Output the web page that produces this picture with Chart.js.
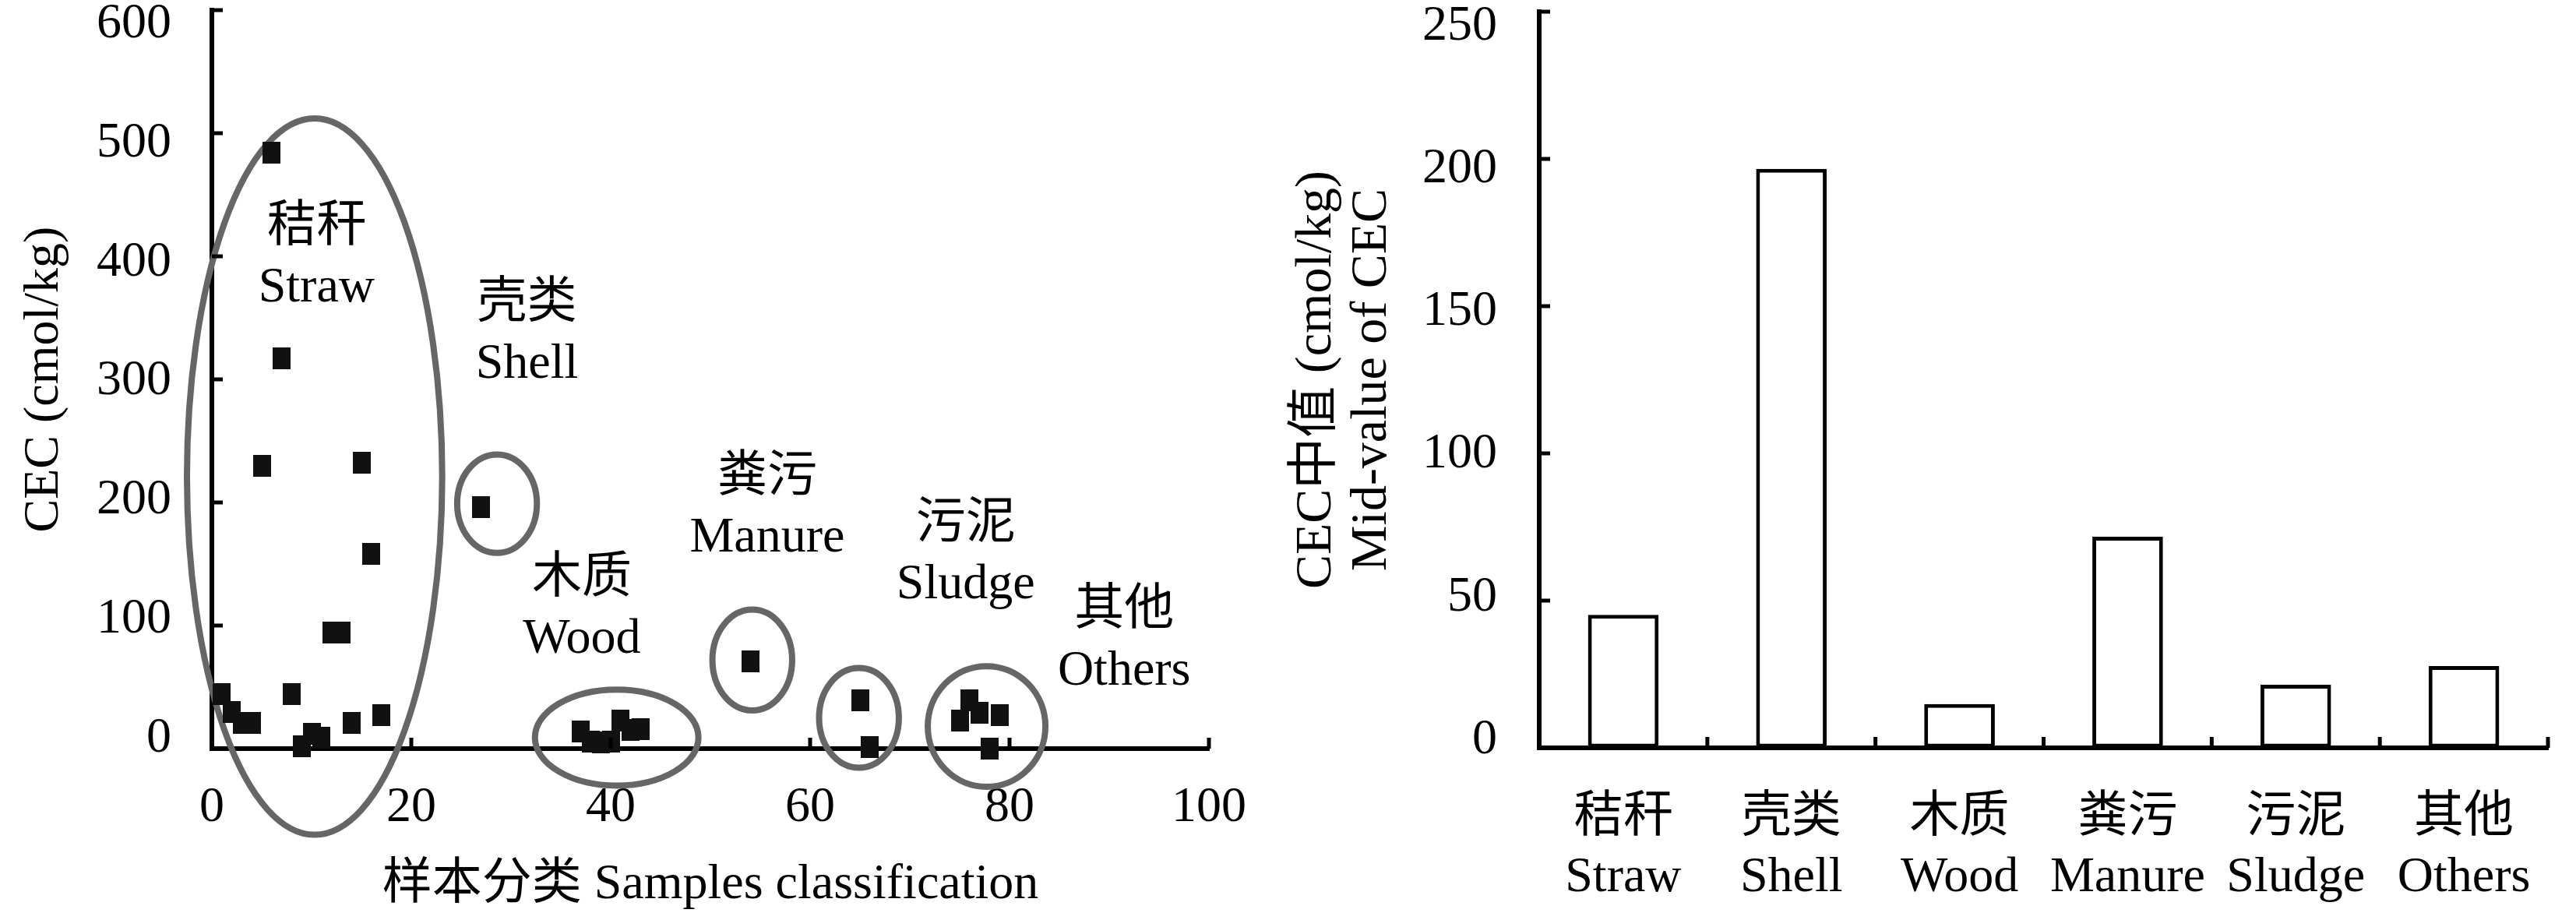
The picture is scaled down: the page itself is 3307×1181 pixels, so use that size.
<!DOCTYPE html>
<html>
<head>
<meta charset="utf-8">
<script src="https://cdn.jsdelivr.net/npm/chart.js@4.4.1/dist/chart.umd.min.js"></script>
<style>
  html, body { margin: 0; padding: 0; background: #fff; }
  #wrap { position: relative; width: 3307px; height: 1181px; }
  #scatter { position: absolute; left: 0; top: 0; }
  #bars { position: absolute; left: 1600px; top: 0; }
</style>
</head>
<body>
<div id="wrap">
  <canvas id="scatter" width="1600" height="1181"></canvas>
  <canvas id="bars" width="1707" height="1181"></canvas>
</div>
<script>
// ---- data ----
const xTicks = [0, 20, 40, 60, 80, 100];
const yTicksLeft = [0, 100, 200, 300, 400, 500, 600];
const yTicksRight = [0, 50, 100, 150, 200, 250];

// sample index / CEC (cmol/kg)
const strawX = [1, 2, 3, 4, 5, 6, 7, 8, 9, 10, 11, 12, 13, 14, 15, 16, 17];
const strawY = [44, 30, 21, 21, 230, 484, 317, 44, 2, 12, 9, 94, 94, 21, 232, 158, 27];
const shellX = [27];
const shellY = [196];
const woodX = [37, 38, 39, 40, 41, 42, 43];
const woodY = [14, 6, 5, 6, 23, 15, 16];
const manureX = [54];
const manureY = [71];
const sludgeX = [65, 66];
const sludgeY = [39, 1];
const othersX = [75, 76, 77, 78, 79];
const othersY = [23, 39, 29, 0, 27];

// medians per class
const classes = [['秸秆', 'Straw'], ['壳类', 'Shell'], ['木质', 'Wood'], ['粪污', 'Manure'], ['污泥', 'Sludge'], ['其他', 'Others']];
const medians = [45.2, 196.6, 14.9, 71.7, 21.4, 27.8];

// group outlines (data units) and group captions
const ellipses = [
  { cx: 10.3, cy: 221, rx: 12.8, ry: 291 },
  { cx: 28.6, cy: 199, rx: 4.0, ry: 40 },
  { cx: 40.6, cy: 9, rx: 8.2, ry: 39 },
  { cx: 54.2, cy: 72, rx: 4.0, ry: 41 },
  { cx: 64.9, cy: 25, rx: 4.0, ry: 40.5 },
  { cx: 77.7, cy: 18, rx: 5.9, ry: 49 }
];
const captions = [
  { zh: '秸秆', en: 'Straw', x: 10.5, y: 399 },
  { zh: '壳类', en: 'Shell', x: 31.6, y: 337 },
  { zh: '木质', en: 'Wood', x: 37.1, y: 114 },
  { zh: '粪污', en: 'Manure', x: 55.7, y: 196 },
  { zh: '污泥', en: 'Sludge', x: 75.6, y: 158 },
  { zh: '其他', en: 'Others', x: 91.5, y: 88 }
];

const FAMILY = '"Liberation Serif", "Times New Roman", "Noto Sans CJK SC", serif';
const font64 = { family: FAMILY, size: 64, lineHeight: 1.2 };

// rectangular marker (figure is slightly stretched vertically)
const marker = document.createElement('canvas');
marker.width = 23; marker.height = 28;
(function() {
    const c = marker.getContext('2d');
    c.fillStyle = '#111';
    c.fillRect(0, 0, 23, 28);
})();

function pts(xs, ys) {
    return xs.map((x, i) => ({ x: x, y: ys[i] }));
}

// keep the plot box where the figure has it (no label overhang padding)
function noPadY(width) {
    return s => { s.width = width; s.paddingTop = 0; s.paddingBottom = 0; };
}
function noPadX(height) {
    return s => { s.height = height; s.paddingLeft = 0; s.paddingRight = 0; };
}

// inward tick marks
const innerTicks = {
    id: 'innerTicks',
    afterDraw(chart) {
        const ctx = chart.ctx;
        const a = chart.chartArea;
        const xs = chart.scales.x, ys = chart.scales.y;
        const len = 14;
        ctx.save();
        ctx.strokeStyle = '#000';
        ctx.lineWidth = 5;
        ctx.beginPath();
        ys.ticks.forEach((t, i) => {
            const py = ys.getPixelForTick(i);
            ctx.moveTo(a.left, py); ctx.lineTo(a.left + len, py);
        });
        if (xs.type === 'category') {
            for (let i = 0; i < xs.ticks.length; i++) {
                const px = i === xs.ticks.length - 1 ? a.right
                    : (xs.getPixelForValue(i) + xs.getPixelForValue(i + 1)) / 2;
                ctx.moveTo(px, a.bottom); ctx.lineTo(px, a.bottom - len);
            }
        } else {
            xs.ticks.forEach((t, i) => {
                const px = xs.getPixelForTick(i);
                ctx.moveTo(px, a.bottom); ctx.lineTo(px, a.bottom - len);
            });
        }
        ctx.stroke();
        ctx.restore();
    }
};

// gray group outlines + captions on the scatter panel
const groups = {
    id: 'groups',
    beforeDatasetsDraw(chart) {
        const ctx = chart.ctx;
        const xs = chart.scales.x, ys = chart.scales.y;
        ctx.save();
        ctx.strokeStyle = '#666';
        ctx.lineWidth = 8;
        ellipses.forEach(e => {
            const px = xs.getPixelForValue(e.cx), py = ys.getPixelForValue(e.cy);
            const rx = Math.abs(xs.getPixelForValue(e.cx + e.rx) - px);
            const ry = Math.abs(ys.getPixelForValue(e.cy + e.ry) - py);
            ctx.beginPath();
            ctx.ellipse(px, py, rx, ry, 0, 0, Math.PI * 2);
            ctx.stroke();
        });
        ctx.fillStyle = '#000';
        ctx.font = '64px ' + FAMILY;
        ctx.textAlign = 'center';
        ctx.textBaseline = 'middle';
        captions.forEach(c => {
            const px = xs.getPixelForValue(c.x), py = ys.getPixelForValue(c.y);
            ctx.fillText(c.zh, px, py - 38);
            ctx.fillText(c.en, px, py + 40);
        });
        ctx.restore();
    }
};

Chart.defaults.color = '#000';
Chart.defaults.font.family = FAMILY;

// value axis carries marks and border; a second, label-only axis sets the
// tick numbers a little inside the ends, the way the figure prints them
new Chart(document.getElementById('scatter'), {
    type: 'scatter',
    data: {
        datasets: [
            { data: pts(strawX, strawY) },
            { data: pts(shellX, shellY) },
            { data: pts(woodX, woodY) },
            { data: pts(manureX, manureY) },
            { data: pts(sludgeX, sludgeY) },
            { data: pts(othersX, othersY) }
        ].map(d => Object.assign(d, { pointStyle: marker, clip: false, yAxisID: 'y' }))
    },
    options: {
        responsive: false,
        devicePixelRatio: 1,
        animation: false,
        layout: { padding: { top: 13, right: 48, left: 0, bottom: 0 } },
        plugins: { legend: { display: false }, tooltip: { enabled: false } },
        scales: {
            x: {
                type: 'linear', min: 0, max: 100,
                afterBuildTicks: s => { s.ticks = xTicks.map(v => ({ value: v })); },
                afterFit: noPadX(220),
                grid: { display: true, drawOnChartArea: false, drawTicks: false },
                border: { color: '#000', width: 6 },
                ticks: { font: font64, padding: 38, maxRotation: 0 },
                title: { display: true, text: '样本分类 Samples classification', font: font64, padding: { top: 0, bottom: 6 } }
            },
            yl: {
                type: 'linear', position: 'left', weight: 1, min: -8.5, max: 611.8,
                afterBuildTicks: s => { s.ticks = yTicksLeft.map(v => ({ value: v })); },
                afterFit: noPadY(272),
                grid: { display: false },
                border: { display: false },
                ticks: { font: font64, padding: 44 },
                title: { display: true, text: 'CEC (cmol/kg)', font: font64, padding: { top: 19, bottom: 0 } }
            },
            y: {
                type: 'linear', position: 'left', weight: 0, min: 0, max: 600,
                afterBuildTicks: s => { s.ticks = yTicksLeft.map(v => ({ value: v })); },
                afterFit: noPadY(0),
                grid: { display: true, drawOnChartArea: false, drawTicks: false },
                border: { color: '#000', width: 6 },
                ticks: { display: false }
            }
        }
    },
    plugins: [groups, innerTicks]
});

new Chart(document.getElementById('bars'), {
    type: 'bar',
    data: {
        labels: classes,
        datasets: [{
            data: medians,
            yAxisID: 'y',
            backgroundColor: '#fff',
            borderColor: '#000',
            borderWidth: 5,
            borderSkipped: false,
            barPercentage: 0.42,
            categoryPercentage: 1
        }]
    },
    options: {
        responsive: false,
        devicePixelRatio: 1,
        animation: false,
        layout: { padding: { top: 15, right: 36, left: 0, bottom: 0 } },
        plugins: { legend: { display: false }, tooltip: { enabled: false } },
        scales: {
            x: {
                afterFit: noPadX(221),
                grid: { display: true, drawOnChartArea: false, drawTicks: false, offset: true },
                border: { color: '#000', width: 6 },
                ticks: { font: font64, padding: 52, maxRotation: 0, autoSkip: false }
            },
            yl: {
                type: 'linear', position: 'left', weight: 1, min: -2.7, max: 255.2,
                afterBuildTicks: s => { s.ticks = yTicksRight.map(v => ({ value: v })); },
                afterFit: noPadY(376),
                grid: { display: false },
                border: { display: false },
                ticks: { font: font64, padding: 46 },
                title: {
                    display: true,
                    text: ['CEC中值 (cmol/kg)', 'Mid-value of CEC'],
                    font: { family: FAMILY, size: 66, lineHeight: 1.075 },
                    padding: { top: 55, bottom: 0 }
                }
            },
            y: {
                type: 'linear', position: 'left', weight: 0, min: 0, max: 250,
                afterBuildTicks: s => { s.ticks = yTicksRight.map(v => ({ value: v })); },
                afterFit: noPadY(0),
                grid: { display: true, drawOnChartArea: false, drawTicks: false },
                border: { color: '#000', width: 6 },
                ticks: { display: false }
            }
        }
    },
    plugins: [innerTicks]
});
</script>
</body>
</html>
